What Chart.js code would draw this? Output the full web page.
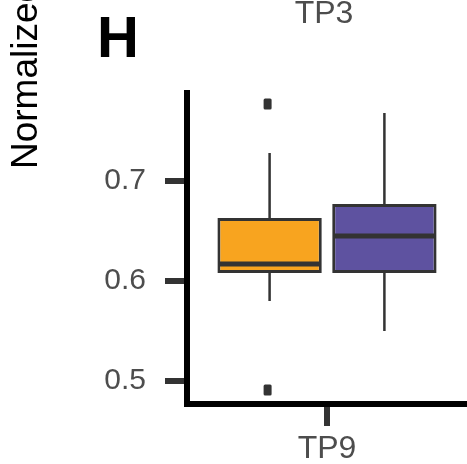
<!DOCTYPE html>
<html>
<head>
<meta charset="utf-8">
<script src="https://cdn.jsdelivr.net/npm/chart.js@4/dist/chart.umd.min.js"></script>
<style>
    html, body { margin: 0; padding: 0; background: #fff; }
    canvas { display: block; }
</style>
</head>
<body>
<canvas id="boxChart" width="467" height="464"></canvas>
<script>
const groups = ['TP9'];
const seriesNames = ['S1', 'S2'];
const seriesColors = ['#f8a41f', '#5e52a0'];

// box statistics, one entry per series
const whiskerLow = [0.580, 0.550];
const q1 = [0.608, 0.608];
const median = [0.617, 0.645];
const q3 = [0.663, 0.677];
const whiskerHigh = [0.728, 0.768];
const outliers = [[0.777, 0.491], []];

const yTicks = [0.5, 0.6, 0.7];
const yMin = 0.477;
const yMax = 0.788;

const FONT = "'Liberation Sans', Arial, sans-serif";
const ink = '#333333';

// whiskers behind the boxes, medians + outliers on top
const boxExtras = {
    id: 'boxExtras',
    beforeDatasetsDraw(chart) {
        const ctx = chart.ctx;
        const y = chart.scales.y;
        ctx.save();
        ctx.strokeStyle = ink;
        ctx.lineWidth = 2.5;
        seriesNames.forEach((_, i) => {
            const bar = chart.getDatasetMeta(i).data[0];
            ctx.beginPath();
            ctx.moveTo(bar.x, y.getPixelForValue(whiskerHigh[i]));
            ctx.lineTo(bar.x, y.getPixelForValue(q3[i]));
            ctx.moveTo(bar.x, y.getPixelForValue(q1[i]));
            ctx.lineTo(bar.x, y.getPixelForValue(whiskerLow[i]));
            ctx.stroke();
        });
        ctx.restore();
    },
    afterDatasetsDraw(chart) {
        const ctx = chart.ctx;
        const y = chart.scales.y;
        ctx.save();
        seriesNames.forEach((_, i) => {
            const bar = chart.getDatasetMeta(i).data[0];
            const half = bar.width / 2;
            const my = y.getPixelForValue(median[i]);
            ctx.strokeStyle = ink;
            ctx.lineWidth = 5;
            ctx.beginPath();
            ctx.moveTo(bar.x - half + 2, my);
            ctx.lineTo(bar.x + half - 2, my);
            ctx.stroke();

            ctx.fillStyle = ink;
            outliers[i].forEach(v => {
                const py = y.getPixelForValue(v);
                ctx.beginPath();
                ctx.roundRect(bar.x - 6, py - 5.5, 8, 11, 1.5);
                ctx.fill();
            });
        });
        ctx.restore();
    },
    afterDraw(chart) {
        const ctx = chart.ctx;
        ctx.save();
        // panel letter
        ctx.fillStyle = '#000';
        ctx.font = 'bold 58px ' + FONT;
        ctx.textAlign = 'left';
        ctx.textBaseline = 'alphabetic';
        ctx.fillText('H', 97, 57);

        // facet strip label
        ctx.fillStyle = '#4d4d4d';
        ctx.font = '32px ' + FONT;
        ctx.textAlign = 'center';
        ctx.fillText('TP3', 324, 23);

        // y axis title
        ctx.fillStyle = '#000';
        ctx.font = '37px ' + FONT;
        ctx.textAlign = 'left';
        ctx.translate(37, 169);
        ctx.rotate(-Math.PI / 2);
        ctx.fillText('Normalized expression', 0, 0);
        ctx.restore();
    }
};

new Chart(document.getElementById('boxChart'), {
    type: 'bar',
    data: {
        labels: groups,
        datasets: seriesNames.map((name, i) => ({
            label: name,
            data: [[q1[i], q3[i]]],
            backgroundColor: seriesColors[i],
            borderColor: ink,
            borderWidth: 3,
            borderSkipped: false,
            categoryPercentage: 0.82,
            barPercentage: 0.909
        }))
    },
    options: {
        responsive: false,
        animation: false,
        events: [],
        layout: { padding: { top: 93, right: 0, bottom: 0, left: 0 } },
        plugins: {
            legend: { display: false },
            tooltip: { enabled: false }
        },
        scales: {
            x: {
                grid: {
                    offset: false,
                    drawOnChartArea: false,
                    lineWidth: 6,
                    tickLength: 22,
                    tickWidth: 6,
                    tickColor: ink
                },
                border: { color: '#000', width: 6 },
                ticks: {
                    color: '#4d4d4d',
                    font: { family: FONT, size: 32 },
                    padding: 4
                },
                afterFit: s => { s.height = 60; }
            },
            y: {
                min: yMin,
                max: yMax,
                afterBuildTicks: s => { s.ticks = yTicks.map(v => ({ value: v })); },
                grid: {
                    drawOnChartArea: false,
                    lineWidth: 6,
                    tickLength: 22,
                    tickWidth: 6,
                    tickColor: ink
                },
                border: { color: '#000', width: 6 },
                ticks: {
                    color: '#4d4d4d',
                    font: { family: FONT, size: 30 },
                    padding: 19,
                    callback: v => v.toFixed(1)
                },
                afterFit: s => { s.width = 187; }
            }
        }
    },
    plugins: [boxExtras]
});
</script>
</body>
</html>
